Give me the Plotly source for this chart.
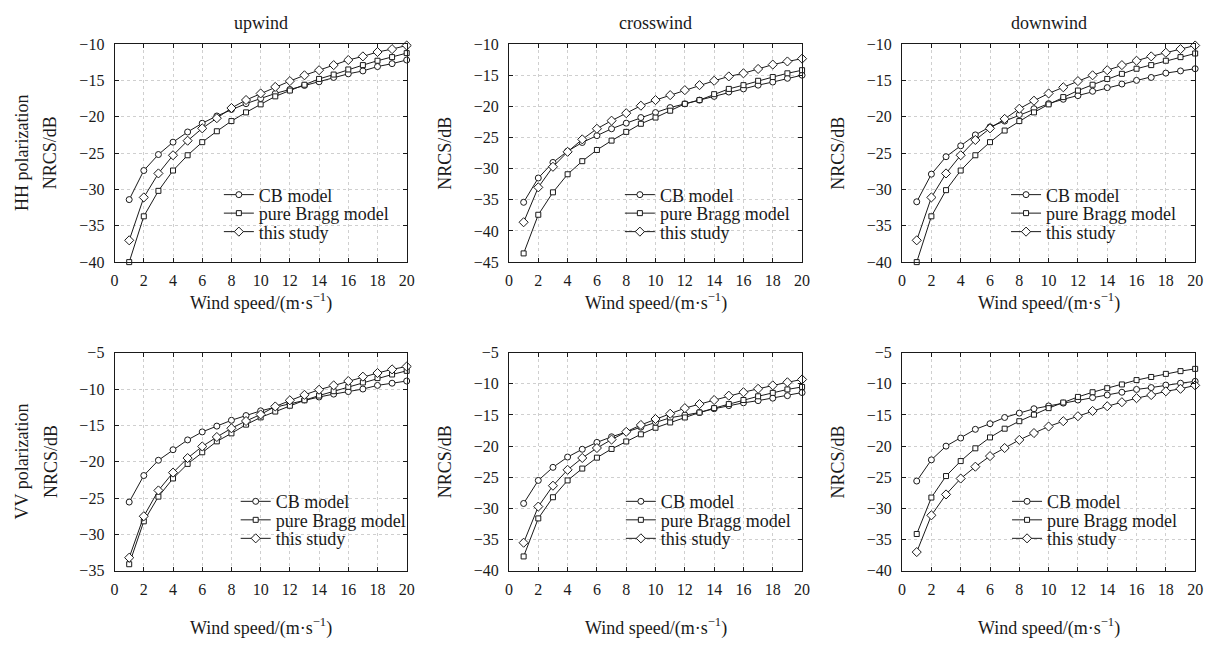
import plotly.graph_objects as go

# Wind speed samples (m/s)
wind_speed = list(range(1, 21))

# NRCS (dB) — HH polarization
hh_up_cb = [-31.4, -27.4, -25.2, -23.5, -22.1, -20.9, -19.9, -19.0, -18.2, -17.5,
            -16.8, -16.25, -15.7, -15.2, -14.6, -14.1, -13.7, -13.1, -12.7, -12.2]
hh_up_bragg = [-40.0, -33.7, -30.2, -27.4, -25.3, -23.5, -22.0, -20.6, -19.4, -18.3,
               -17.2, -16.4, -15.6, -14.8, -14.2, -13.5, -12.9, -12.3, -11.8, -11.25]
hh_up_study = [-37.0, -31.1, -27.8, -25.3, -23.3, -21.6, -20.2, -18.8, -17.7, -16.8,
               -15.9, -15.1, -14.3, -13.6, -12.9, -12.2, -11.7, -11.1, -10.7, -10.2]

hh_cross_cb = [-35.4, -31.5, -29.0, -27.2, -25.8, -24.7, -23.6, -22.7, -21.8, -21.0,
               -20.2, -19.6, -19.0, -18.4, -17.7, -17.2, -16.6, -16.1, -15.5, -15.0]
hh_cross_bragg = [-43.6, -37.4, -33.8, -30.9, -28.8, -27.0, -25.5, -24.1, -22.8, -21.8,
                  -20.7, -19.6, -19.0, -18.05, -17.2, -16.6, -15.9, -15.3, -14.7, -14.2]
hh_cross_study = [-38.6, -33.0, -29.7, -27.3, -25.3, -23.6, -22.3, -21.1, -19.9, -19.0,
                  -18.2, -17.4, -16.6, -15.9, -15.2, -14.7, -14.0, -13.3, -12.8, -12.35]

hh_down_cb = [-31.7, -27.9, -25.5, -24.0, -22.5, -21.4, -20.6, -19.7, -18.9, -18.2,
              -17.6, -17.1, -16.5, -16.0, -15.5, -15.0, -14.6, -14.0, -13.7, -13.4]
hh_down_bragg = [-40.0, -33.7, -30.1, -27.4, -25.3, -23.5, -21.9, -20.6, -19.4, -18.3,
                 -17.3, -16.4, -15.6, -14.8, -14.1, -13.4, -12.9, -12.3, -11.8, -11.3]
hh_down_study = [-37.0, -31.1, -27.8, -25.3, -23.2, -21.6, -20.3, -18.9, -17.8, -16.8,
                 -15.95, -15.1, -14.3, -13.6, -12.9, -12.3, -11.7, -11.2, -10.7, -10.2]

# NRCS (dB) — VV polarization
vv_up_cb = [-25.55, -21.9, -19.8, -18.35, -17.0, -15.9, -15.1, -14.3, -13.65, -13.0,
            -12.5, -12.0, -11.5, -11.1, -10.7, -10.35, -10.0, -9.5, -9.2, -8.9]
vv_up_bragg = [-34.1, -28.2, -24.8, -22.3, -20.3, -18.7, -17.2, -16.1, -14.9, -13.9,
               -13.1, -12.3, -11.55, -10.9, -10.3, -9.7, -9.1, -8.5, -8.0, -7.5]
vv_up_study = [-33.2, -27.5, -23.95, -21.5, -19.5, -17.9, -16.6, -15.4, -14.4, -13.5,
               -12.4, -11.55, -10.8, -10.1, -9.5, -8.9, -8.3, -7.8, -7.3, -6.9]

vv_cross_cb = [-29.2, -25.5, -23.4, -21.75, -20.5, -19.4, -18.5, -17.7, -16.96, -16.2,
               -15.45, -15.0, -14.6, -14.0, -13.5, -13.05, -12.7, -12.3, -11.9, -11.4]
vv_cross_bragg = [-37.7, -31.6, -28.2, -25.5, -23.6, -21.85, -20.45, -19.25, -18.1, -17.05,
                  -16.2, -15.4, -14.6, -13.9, -13.25, -12.6, -12.0, -11.45, -10.9, -10.5]
vv_cross_study = [-35.5, -29.7, -26.35, -23.8, -21.9, -20.3, -18.95, -17.7, -16.6, -15.65,
                  -14.8, -13.9, -13.25, -12.6, -11.9, -11.35, -10.8, -10.25, -9.75, -9.3]

vv_down_cb = [-25.6, -22.2, -20.0, -18.7, -17.3, -16.4, -15.4, -14.7, -14.0, -13.55,
              -13.1, -12.6, -12.2, -11.8, -11.35, -10.9, -10.6, -10.2, -9.9, -9.6]
vv_down_bragg = [-34.1, -28.25, -24.8, -22.4, -20.35, -18.6, -17.2, -16.0, -14.95, -13.9,
                 -13.0, -12.1, -11.35, -10.7, -10.1, -9.4, -8.9, -8.4, -7.96, -7.6]
vv_down_study = [-37.0, -31.1, -27.75, -25.2, -23.3, -21.6, -20.3, -19.0, -17.9, -16.85,
                 -16.0, -15.2, -14.35, -13.6, -12.95, -12.3, -11.8, -11.2, -10.8, -10.25]

series_names = ["CB model", "pure Bragg model", "this study"]
column_titles = ["upwind", "crosswind", "downwind"]
row_titles = ["HH polarization", "VV polarization"]
x_title = "Wind speed/(m·s<sup>−1</sup>)"
y_title = "NRCS/dB"
x_ticks = list(range(0, 21, 2))

panels = [
    [(hh_up_cb, hh_up_bragg, hh_up_study),
     (hh_cross_cb, hh_cross_bragg, hh_cross_study),
     (hh_down_cb, hh_down_bragg, hh_down_study)],
    [(vv_up_cb, vv_up_bragg, vv_up_study),
     (vv_cross_cb, vv_cross_bragg, vv_cross_study),
     (vv_down_cb, vv_down_bragg, vv_down_study)],
]
y_ranges = [[(-40, -10), (-45, -10), (-40, -10)],
            [(-35, -5), (-40, -5), (-40, -5)]]

# ---- layout geometry (pixels in a 1220x645 page) ----
W, H = 1220, 645
col_px = [(111.7, 406.7), (510.0, 806.0), (907.0, 1203.0)]
row_px = [(37.0, 261.0), (354.0, 578.0)]
legend_text_x = [[257, 662, 1052], [274, 663, 1053]]
legend_rows_y = [[192, 211, 230], [507, 526, 545]]
x_title_y = [302, 636]

FONT = "Liberation Serif, Times New Roman, serif"
INK = "#1a1a1a"
symbols = ["circle", "square", "diamond"]
marker_sizes = [6, 5, 7]


def px_x(v):
    return v / W


def px_y(v):
    return 1 - v / H


fig = go.Figure()
layout = dict(
    width=W, height=H,
    margin=dict(l=0, r=0, t=0, b=0),
    paper_bgcolor="white", plot_bgcolor="white",
    font=dict(family=FONT, size=16, color=INK),
    annotations=[],
)

legend_idx = 0
for r in range(2):
    for c in range(3):
        k = r * 3 + c + 1
        xa = "xaxis" if k == 1 else f"xaxis{k}"
        ya = "yaxis" if k == 1 else f"yaxis{k}"
        xref = "x" if k == 1 else f"x{k}"
        yref = "y" if k == 1 else f"y{k}"
        common = dict(
            showline=True, linecolor=INK, linewidth=1, mirror="ticks",
            ticks="inside", ticklen=4, tickcolor=INK, tickwidth=1,
            showgrid=True, gridcolor="#cfcfcf", gridwidth=1, griddash="dot",
            zeroline=False, tickfont=dict(family=FONT, size=16, color=INK),
        )
        layout[xa] = dict(
            common, domain=[px_x(col_px[c][0]), px_x(col_px[c][1])],
            range=[0, 20], tickvals=x_ticks, anchor=yref, ticklabelstandoff=4,
        )
        lo, hi = y_ranges[r][c]
        layout[ya] = dict(
            common, domain=[px_y(row_px[r][1]), px_y(row_px[r][0])],
            range=[lo, hi], dtick=5, anchor=xref, ticklabelstandoff=6,
        )

        for s, values in enumerate(panels[r][c]):
            legend_idx += 1
            lg = "legend" if legend_idx == 1 else f"legend{legend_idx}"
            fig.add_trace(go.Scatter(
                x=wind_speed, y=values, name=series_names[s],
                mode="lines+markers", xaxis=xref, yaxis=yref,
                line=dict(color=INK, width=1),
                marker=dict(symbol=symbols[s], size=marker_sizes[s], color="white",
                            line=dict(color=INK, width=1)),
                cliponaxis=False, legend=lg, showlegend=True,
            ))
            layout[lg] = dict(
                x=px_x(legend_text_x[r][c] - 40), xanchor="left",
                y=px_y(legend_rows_y[r][s]), yanchor="middle",
                bgcolor="rgba(0,0,0,0)", borderwidth=0,
                font=dict(family=FONT, size=18, color=INK),
                itemclick=False, itemdoubleclick=False,
            )

        cx = (col_px[c][0] + col_px[c][1]) / 2
        cy = (row_px[r][0] + row_px[r][1]) / 2
        # x-axis title
        layout["annotations"].append(dict(
            text=x_title, xref="paper", yref="paper",
            x=px_x(cx), y=px_y(x_title_y[r]), xanchor="center", yanchor="middle",
            showarrow=False, font=dict(family=FONT, size=18, color=INK)))
        # y-axis title
        layout["annotations"].append(dict(
            text=y_title, xref="paper", yref="paper",
            x=px_x(col_px[c][0] - 65), y=px_y(cy), xanchor="center", yanchor="middle",
            textangle=-90, showarrow=False, font=dict(family=FONT, size=18, color=INK)))
        if r == 0:
            layout["annotations"].append(dict(
                text=column_titles[c], xref="paper", yref="paper",
                x=px_x(cx), y=px_y(15), xanchor="center", yanchor="middle",
                showarrow=False, font=dict(family=FONT, size=18, color=INK)))
    # polarization label for the row
    cy = (row_px[r][0] + row_px[r][1]) / 2
    layout["annotations"].append(dict(
        text=row_titles[r], xref="paper", yref="paper",
        x=px_x(18), y=px_y(cy), xanchor="center", yanchor="middle",
        textangle=-90, showarrow=False, font=dict(family=FONT, size=18, color=INK)))

fig.update_layout(**layout)
fig.write_html("out.html")
